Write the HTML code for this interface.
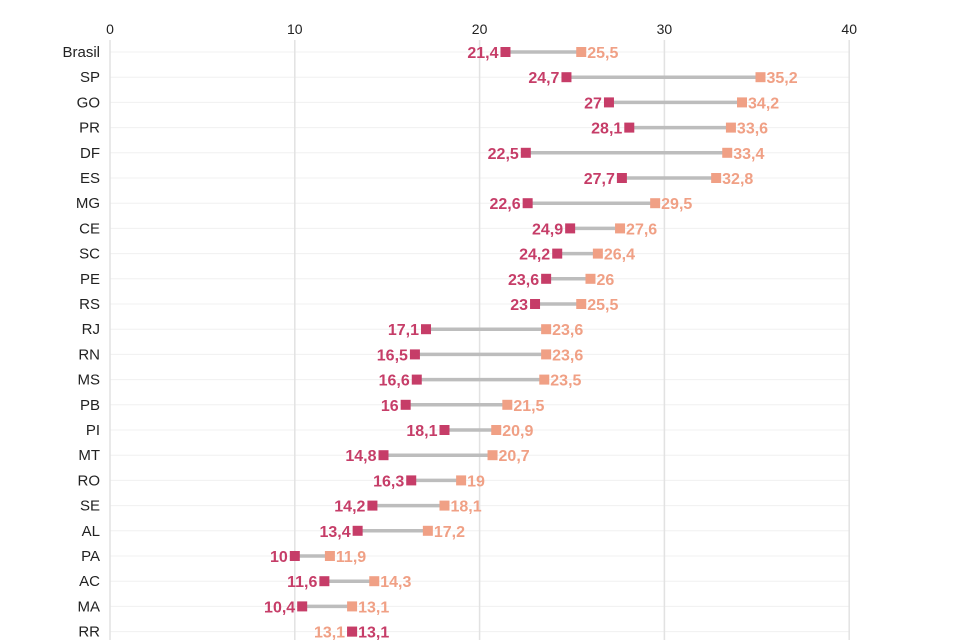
<!DOCTYPE html>
<html><head><meta charset="utf-8">
<style>
html,body{margin:0;padding:0;background:#fff;}
svg{display:block;font-family:"Liberation Sans","DejaVu Sans",sans-serif;}
</style></head>
<body>
<svg id="c" width="960" height="640" viewBox="0 0 960 640"></svg>
<script>
var d=[["Brasil",21.4,25.5],["SP",24.7,35.2],["GO",27,34.2],["PR",28.1,33.6],["DF",22.5,33.4],["ES",27.7,32.8],["MG",22.6,29.5],["CE",24.9,27.6],["SC",24.2,26.4],["PE",23.6,26],["RS",23,25.5],["RJ",17.1,23.6],["RN",16.5,23.6],["MS",16.6,23.5],["PB",16,21.5],["PI",18.1,20.9],["MT",14.8,20.7],["RO",16.3,19],["SE",14.2,18.1],["AL",13.4,17.2],["PA",10,11.9],["AC",11.6,14.3],["MA",10.4,13.1],["RR",13.1,13.1]];
var X=function(v){return 110+v*18.48;};
var s="";
var dark="#c63d68",light="#f0a085";
for(var i=0;i<24;i++){var y=52+i*25.2;s+='<line x1="110" x2="850" y1="'+y+'" y2="'+y+'" stroke="#f0f0f0" stroke-width="1"/>';}
[0,10,20,30,40].forEach(function(t){var x=X(t);s+='<line x1="'+x+'" x2="'+x+'" y1="40" y2="640" stroke="#e2e2e2" stroke-width="1.5"/>';s+='<text x="'+x+'" y="34" font-size="14" text-anchor="middle" fill="#222">'+t+'</text>';});
function f(v){return String(v).replace('.',',');}
d.forEach(function(r,i){var y=52+i*25.2,a=X(r[1]),b=X(r[2]);
s+='<text x="100" y="'+(y+5)+'" font-size="15" text-anchor="end" fill="#222">'+r[0]+'</text>';
s+='<line x1="'+a+'" x2="'+b+'" y1="'+y+'" y2="'+y+'" stroke="#bdbdbd" stroke-width="3.5"/>';
s+='<rect x="'+(b-5)+'" y="'+(y-5)+'" width="10" height="10" fill="'+light+'"/>';
s+='<rect x="'+(a-5)+'" y="'+(y-5)+'" width="10" height="10" fill="'+dark+'"/>';
if(r[0]=="RR"){
s+='<text x="'+(a-7)+'" y="'+(y+6)+'" font-size="16" font-weight="bold" text-anchor="end" fill="'+light+'">'+f(r[2])+'</text>';
s+='<text x="'+(a+6)+'" y="'+(y+6)+'" font-size="16" font-weight="bold" fill="'+dark+'">'+f(r[1])+'</text>';
}else{
s+='<text x="'+(a-7)+'" y="'+(y+6)+'" font-size="16" font-weight="bold" text-anchor="end" fill="'+dark+'">'+f(r[1])+'</text>';
s+='<text x="'+(b+6)+'" y="'+(y+6)+'" font-size="16" font-weight="bold" fill="'+light+'">'+f(r[2])+'</text>';}
});
document.getElementById("c").innerHTML=s;
</script>
</body></html>
